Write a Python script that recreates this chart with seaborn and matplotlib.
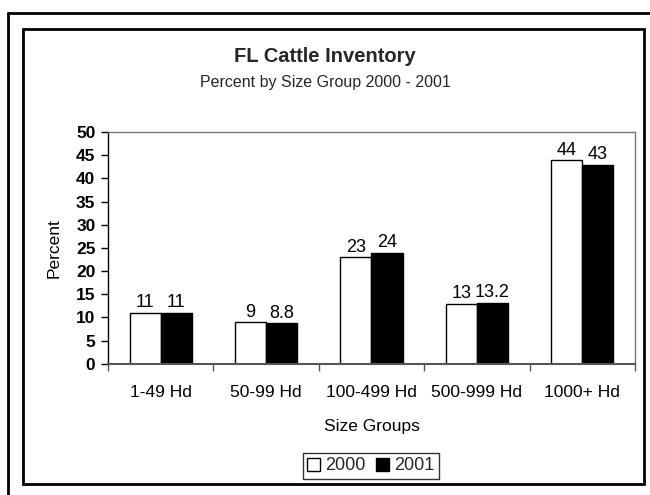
import pandas as pd
import numpy as np
import matplotlib
matplotlib.use('Agg')
import matplotlib.pyplot as plt
from matplotlib.lines import Line2D
from matplotlib.patches import Rectangle
import seaborn as sns

# Chart values

groups = ['1-49 Hd', '50-99 Hd', '100-499 Hd', '500-999 Hd', '1000+ Hd']
pct_2000 = [11, 9, 23, 13, 44]
pct_2001 = [11, 8.8, 24, 13.2, 43]
years = ['2000', '2001']

df = pd.DataFrame({'group': groups * 2,
                   'year': [years[0]] * 5 + [years[1]] * 5,
                   'percent': pct_2000 + pct_2001})

sns.set_theme(style='white')
plt.rcParams['font.family'] = ['Liberation Sans', 'DejaVu Sans']

fig = plt.figure(figsize=(6.5, 4.95), dpi=100)
ax = fig.add_axes([0.166, 0.265, 0.811, 0.468])

sns.barplot(data=df, x='group', y='percent', hue='year', order=groups,
            hue_order=years, palette=['white', 'black'], edgecolor='black',
            linewidth=1, width=0.59, gap=0, ax=ax)

for cont in ax.containers:
    ax.bar_label(cont, fmt='%g', padding=1, fontsize=13, color='black')

ax.set_ylim(0, 50)
ax.set_yticks(range(0, 51, 5))
ax.set_xlim(-0.5, 4.5)
ax.set_xticks(np.arange(-0.5, 4.6, 1), minor=True)
ax.tick_params(axis='x', which='major', length=0, pad=15, labelsize=12.5, colors='black')
ax.tick_params(axis='x', which='minor', length=5, width=1, color='#555555', direction='out', bottom=True)
ax.tick_params(axis='y', length=5, width=1, color='black', direction='out', left=True,
               labelsize=12.5, pad=4, colors='black')
for lab in ax.get_yticklabels():
    lab.set_fontweight('bold')

for side in ['top', 'right']:
    ax.spines[side].set_color('#777777')
    ax.spines[side].set_linewidth(1)
ax.spines['left'].set_color('black')
ax.spines['left'].set_linewidth(1)
ax.spines['bottom'].set_color('#555555')
ax.spines['bottom'].set_linewidth(1.5)

ax.set_ylabel('Percent', fontsize=12.5, labelpad=10, color='black')
ax.set_xlabel('Size Groups', fontsize=12.5, labelpad=14, color='black')

fig.text(0.5, 1 - 57 / 495, 'FL Cattle Inventory', ha='center', va='center',
         fontsize=14.5, fontweight='bold')
fig.text(0.5, 1 - 83 / 495, 'Percent by Size Group 2000 - 2001', ha='center',
         va='center', fontsize=11.5)

sns.move_legend(ax, 'center', bbox_to_anchor=(371 / 650, 1 - 466 / 495),
                bbox_transform=fig.transFigure, ncol=2, title=None, frameon=True,
                fontsize=13, handlelength=0.7, handleheight=0.7, handletextpad=0.3,
                columnspacing=0.6, borderpad=0.25, fancybox=False, edgecolor='black')
ax.get_legend().get_frame().set_linewidth(1)

# chart frame and the outer border lines
fig.patches.append(Rectangle((23 / 650, 1 - 484 / 495), 621 / 650, 455 / 495,
                             transform=fig.transFigure, fill=False,
                             edgecolor='black', linewidth=2))
fig.lines.append(Line2D([8 / 650, 8 / 650], [0, 1 - 13 / 495], transform=fig.transFigure,
                        color='black', linewidth=2))
fig.lines.append(Line2D([8 / 650, 1], [1 - 13 / 495, 1 - 13 / 495], transform=fig.transFigure,
                        color='black', linewidth=2))

fig.savefig('out.png', dpi=100)
